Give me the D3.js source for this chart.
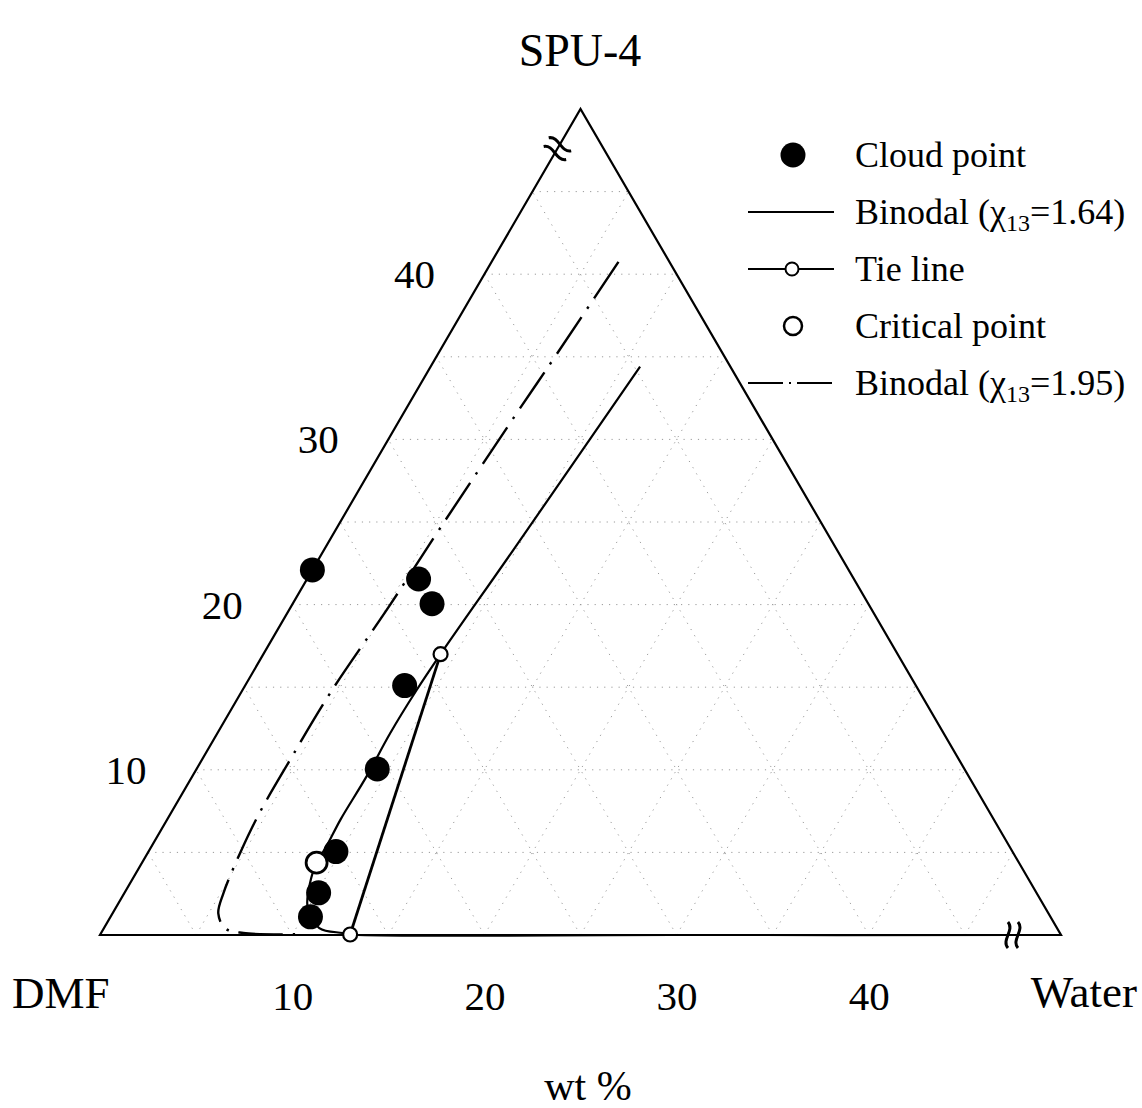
<!DOCTYPE html>
<html>
<head>
<meta charset="utf-8">
<script src="https://cdn.jsdelivr.net/npm/d3@7"></script>
<style>
  body { margin: 0; background: #fff; }
  svg text { font-family: "Liberation Serif", "Times New Roman", serif; fill: #000; }
</style>
</head>
<body>
<div id="chart"></div>
<script>
// compositions in wt%: [water, polymer]  (DMF = the rest)
const cloudPoints = [[0, 22.1], [5.8, 21.55], [7.25, 20.05], [8.3, 15.1], [9.4, 10.05], [9.75, 5.05], [10.1, 2.55], [10.4, 1.1]];
const binodal164 = [[10.9, 34.4], [9.85, 23.3], [9.22, 17.0], [9.06, 14.8], [8.99, 12.2], [9.07, 9.6], [9.02, 7.0], [9.1, 5.35], [9.08, 4.38], [9.25, 3.5], [9.95, 1.7], [11.2, 0.42], [12.55, 0.12], [13.0, 0.03], [30, 0], [50, 0]];
const binodal195 = [[6.6, 40.75], [6.17, 35.0], [5.89, 31.6], [5.38, 24.6], [5.1, 20.0], [4.65, 14.6], [4.59, 10.6], [4.61, 7.26], [4.81, 4.95], [5.16, 2.52], [5.5, 1.31], [6.3, 0.41], [7.4, 0.12], [10.5, 0.05]];
const tieLine = [[9.22, 17.0], [13.0, 0.03]];
const criticalPoint = [9.08, 4.38];
const breakMarks = [[47.5, 0], [0, 47.6]];

const bottomTicks = [10, 20, 30, 40];
const leftTicks = [10, 20, 30, 40];
const legendLabels = ["Cloud point", "Binodal", "Tie line", "Critical point", "Binodal"];
const legendChi = [null, "1.64", null, null, "1.95"];

const width = 1142, height = 1108;
const svg = d3.select("#chart").append("svg")
    .attr("width", width)
    .attr("height", height);

// triangle corner: 0..50 wt% on each side
const xScale = d3.scaleLinear().domain([0, 50]).range([100, 1061]);
const yScale = d3.scaleLinear().domain([0, 50]).range([935, 109]);
const px = d => xScale(d[0] + d[1] / 2);
const py = d => yScale(d[1]);
const line = d3.line().x(px).y(py);
const curve = d3.line().x(px).y(py).curve(d3.curveCatmullRom.alpha(0.5));

// dotted grid every 5 wt%
const grid = [];
d3.range(5, 50, 5).forEach(k => {
    grid.push([[0, k], [50 - k, k]]);
    grid.push([[k, 0], [k, 50 - k]]);
    grid.push([[k, 0], [0, k]]);
});
svg.append("g").selectAll("path")
    .data(grid)
    .enter().append("path")
    .attr("d", line)
    .attr("fill", "none")
    .attr("stroke", "#9a9a9a")
    .attr("stroke-width", 1)
    .attr("stroke-dasharray", "1.2,6");

// triangle frame
svg.append("path")
    .attr("d", line([[0, 0], [50, 0], [0, 50]]) + "Z")
    .attr("fill", "none")
    .attr("stroke", "#000")
    .attr("stroke-width", 2.2);

// axis break marks
const angle = Math.atan2(yScale(50) - yScale(0), xScale(25) - xScale(0)) * 180 / Math.PI;
breakMarks.forEach((b, i) => {
    const rot = i === 0 ? 0 : angle;
    const g = svg.append("g")
        .attr("transform", `translate(${px(b)},${py(b)}) rotate(${rot})`);
    [-5, 5].forEach(off => {
        g.append("path")
            .attr("d", `M${off},-13 C${off + 7},-5 ${off - 7},5 ${off},13`)
            .attr("fill", "none")
            .attr("stroke", "#000")
            .attr("stroke-width", 3);
    });
});

// binodal curves
svg.append("path")
    .attr("d", curve(binodal195))
    .attr("fill", "none")
    .attr("stroke", "#000")
    .attr("stroke-width", 2.4)
    .attr("stroke-dasharray", "44,10,2.5,10");

svg.append("path")
    .attr("d", curve(binodal164))
    .attr("fill", "none")
    .attr("stroke", "#000")
    .attr("stroke-width", 2.2);

// tie line
svg.append("path")
    .attr("d", line(tieLine))
    .attr("fill", "none")
    .attr("stroke", "#000")
    .attr("stroke-width", 2.8);

// cloud points
svg.append("g").selectAll("circle")
    .data(cloudPoints)
    .enter().append("circle")
    .attr("cx", px)
    .attr("cy", py)
    .attr("r", 12.5)
    .attr("fill", "#000");

svg.append("g").selectAll("circle")
    .data(tieLine)
    .enter().append("circle")
    .attr("cx", px)
    .attr("cy", py)
    .attr("r", 7)
    .attr("fill", "#fff")
    .attr("stroke", "#000")
    .attr("stroke-width", 2.2);

svg.append("circle")
    .attr("cx", px(criticalPoint))
    .attr("cy", py(criticalPoint))
    .attr("r", 10.5)
    .attr("fill", "#fff")
    .attr("stroke", "#000")
    .attr("stroke-width", 2.8);

// bottom axis labels
const xAxis = svg.append("g")
    .attr("transform", `translate(0,${yScale(0)})`)
    .call(d3.axisBottom(xScale).tickValues(bottomTicks).tickSize(0).tickPadding(46));
xAxis.select(".domain").remove();
xAxis.selectAll("text")
    .style("font-family", "'Liberation Serif', serif")
    .style("font-size", "41px")
    .attr("fill", "#000");

// left side labels
svg.append("g").selectAll("text")
    .data(leftTicks)
    .enter().append("text")
    .attr("x", d => px([0, d]) - 70)
    .attr("y", d => py([0, d]))
    .attr("dy", "0.34em")
    .attr("text-anchor", "middle")
    .style("font-size", "41px")
    .text(d => d);

svg.append("text").attr("x", 580).attr("y", 66).attr("text-anchor", "middle")
    .style("font-size", "46px").text("SPU-4");
svg.append("text").attr("x", 12).attr("y", 1008)
    .style("font-size", "45px").text("DMF");
svg.append("text").attr("x", 1137).attr("y", 1007).attr("text-anchor", "end")
    .style("font-size", "45px").text("Water");
svg.append("text").attr("x", 588).attr("y", 1100).attr("text-anchor", "middle")
    .style("font-size", "42px").text("wt %");

// legend
const legend = svg.append("g");
legendLabels.forEach((lab, i) => {
    const y = 155 + i * 57;
    const row = legend.append("g");
    if (i === 0) {
        row.append("circle").attr("cx", 793).attr("cy", y).attr("r", 12.5).attr("fill", "#000");
    } else if (i === 1 || i === 2 || i === 4) {
        row.append("line").attr("x1", 748).attr("x2", 834).attr("y1", y).attr("y2", y)
            .attr("stroke", "#000").attr("stroke-width", 2)
            .attr("stroke-dasharray", i === 4 ? "35,6,2,6" : null);
        if (i === 2) {
            row.append("circle").attr("cx", 792).attr("cy", y).attr("r", 6.5)
                .attr("fill", "#fff").attr("stroke", "#000").attr("stroke-width", 2);
        }
    } else {
        row.append("circle").attr("cx", 793).attr("cy", y).attr("r", 9)
            .attr("fill", "#fff").attr("stroke", "#000").attr("stroke-width", 2.5);
    }
    const t = row.append("text").attr("x", 855).attr("y", y + 11.5).style("font-size", "36px");
    t.append("tspan").text(lab);
    if (legendChi[i]) {
        t.append("tspan").text(" (\u03C7");
        t.append("tspan").attr("dy", 7).style("font-size", "24px").text("13");
        t.append("tspan").attr("dy", -7).text("=" + legendChi[i] + ")");
    }
});
</script>
</body>
</html>
